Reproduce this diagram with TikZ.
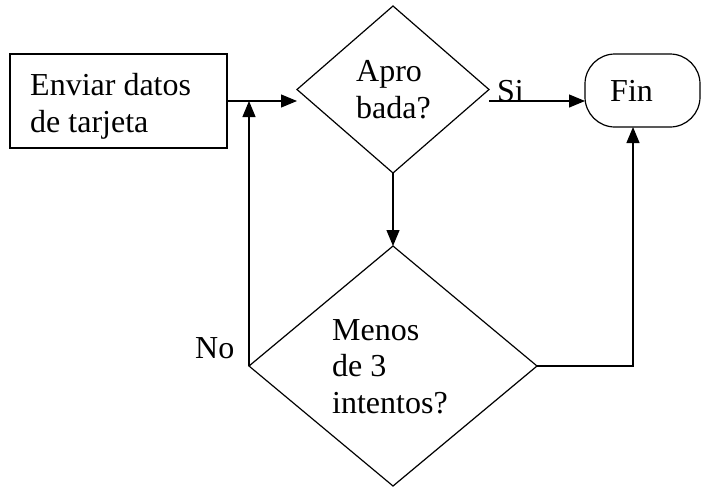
\documentclass[tikz,border=0pt]{standalone}
\usepackage{fontspec}
\setmainfont{Liberation Serif}
\usetikzlibrary{shapes.geometric,arrows.meta}
\begin{document}
\begin{tikzpicture}[x=1pt,y=-1pt,
  outline/.style={draw, line width=1.2pt, inner sep=0pt, outer sep=0pt},
  lbl/.style={anchor=base west, inner sep=0pt, align=left,
              font=\fontsize{32}{36.5}\selectfont},
  flow/.style={line width=1.2pt, -{Triangle[length=16pt,width=13pt]}}]
\useasboundingbox (0,0) rectangle (701,488);

% shapes
\node[outline, minimum width=217pt, minimum height=94pt] (env) at (118.5,101) {};
\node[outline, diamond, minimum width=192pt, minimum height=167pt] (apro) at (393,89.5) {};
\node[outline, diamond, minimum width=288pt, minimum height=240pt] (meno) at (393,366) {};
\node[outline, rounded corners=30pt, minimum width=115pt, minimum height=73pt] (fin) at (642.5,90.5) {};

% texts (multi-line labels are anchored at the baseline of their last line)
\node[lbl] (envtxt) at (30,132) {Enviar datos\\de tarjeta};
\node[lbl] (aprotxt) at (356,118) {Apro\\bada?};
\node[lbl] (menotxt) at (332,413) {Menos\\de 3\\intentos?};
\node[lbl] (fintxt) at (610,101) {Fin};
\node[lbl] (si) at (497,101) {Si};
\node[lbl] (no) at (195,358) {No};

% connectors
\draw[flow] (env.east) -- (env.east -| apro.west);
\draw[flow] (apro.east |- env.east) -- (fin.west |- env.east);
\draw[flow] (apro.south) -- (meno.north);
\draw[flow] (meno.east) -| ([xshift=-9.5pt]fin.south);
\draw[flow] (meno.west) -- (meno.west |- env.east);
\end{tikzpicture}
\end{document}
